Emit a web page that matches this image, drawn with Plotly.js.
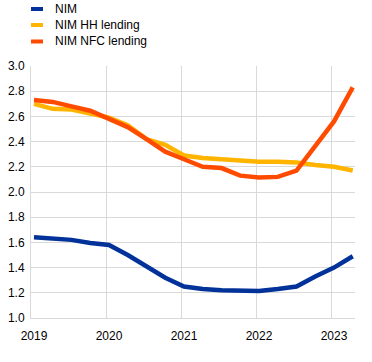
<!DOCTYPE html>
<html>
<head>
<meta charset="utf-8">
<script src="https://cdn.plot.ly/plotly-3.0.1.min.js"></script>
<style>
html,body{margin:0;padding:0;background:#fff;}
#chart{width:372px;height:362px;}
</style>
</head>
<body>
<div id="chart"></div>
<script>
// Quarterly observation positions (decimal years)
const quarters = [2019.04, 2019.29, 2019.54, 2019.79, 2020.04, 2020.29, 2020.54, 2020.79,
                  2021.04, 2021.29, 2021.54, 2021.79, 2022.04, 2022.29, 2022.54, 2022.79,
                  2023.04, 2023.29];
const seriesNames = ["NIM", "NIM HH lending", "NIM NFC lending"];
const nim = [1.64, 1.63, 1.62, 1.595, 1.58, 1.50, 1.41, 1.32,
             1.25, 1.23, 1.22, 1.215, 1.215, 1.23, 1.25, 1.33,
             1.40, 1.49];
const nimHH = [2.70, 2.66, 2.655, 2.62, 2.59, 2.53, 2.42, 2.375,
               2.29, 2.27, 2.26, 2.25, 2.24, 2.24, 2.235, 2.215,
               2.20, 2.17];
const nimNFC = [2.73, 2.715, 2.68, 2.645, 2.58, 2.515, 2.42, 2.32,
                2.26, 2.20, 2.19, 2.13, 2.115, 2.12, 2.17, 2.37,
                2.56, 2.83];
const yearTicks = [2019, 2020, 2021, 2022, 2023];
const yearLabels = ["2019", "2020", "2021", "2022", "2023"];
const colors = ["#003299", "#FFB400", "#FF4B00"];

const seriesValues = [nim, nimHH, nimNFC];
const traces = seriesValues.map((vals, i) => ({
  x: quarters, y: vals, name: seriesNames[i], type: "scatter", mode: "lines",
  line: {color: colors[i], width: 4.5}, showlegend: false
}));

// manual legend (plot area spans 252px vertically, 324px horizontally)
const legendRowsPx = [9, 25, 41.5];
const shapes = [];
const annotations = [];
seriesNames.forEach((name, i) => {
  const yp = (318 - legendRowsPx[i]) / 252;
  shapes.push({type: "line", xref: "paper", yref: "paper", x0: 0, x1: 12/324, y0: yp, y1: yp,
               line: {color: colors[i], width: 4}});
  annotations.push({xref: "paper", yref: "paper", x: 22/324, y: yp, xanchor: "left", yanchor: "middle",
                    text: name, showarrow: false, font: {family: "Liberation Sans, Arial, sans-serif", size: 12, color: "#000"}});
});

const layout = {
  width: 372, height: 362,
  margin: {l: 31, r: 17, t: 66, b: 44},
  paper_bgcolor: "#fff", plot_bgcolor: "#fff",
  font: {family: "Liberation Sans, Arial, sans-serif", size: 12, color: "#000"},
  showlegend: false,
  xaxis: {range: [2019, 2023.32], tickvals: yearTicks, ticktext: yearLabels,
          showgrid: true, gridcolor: "#d9d9d9", gridwidth: 1, zeroline: false,
          showline: true, linecolor: "#d9d9d9", linewidth: 1, ticklabelshift: 3,
          ticks: "outside", ticklen: 7, tickcolor: "rgba(0,0,0,0)", fixedrange: true},
  yaxis: {range: [1.0, 3.0], dtick: 0.2, tick0: 1.0, tickformat: ".1f",
          showgrid: true, gridcolor: "#d9d9d9", gridwidth: 1, zeroline: false,
          showline: true, linecolor: "#d9d9d9", linewidth: 1,
          ticks: "outside", ticklen: 3, tickcolor: "rgba(0,0,0,0)", fixedrange: true},
  shapes: shapes,
  annotations: annotations
};

Plotly.newPlot("chart", traces, layout, {displayModeBar: false, staticPlot: true});
</script>
</body>
</html>
